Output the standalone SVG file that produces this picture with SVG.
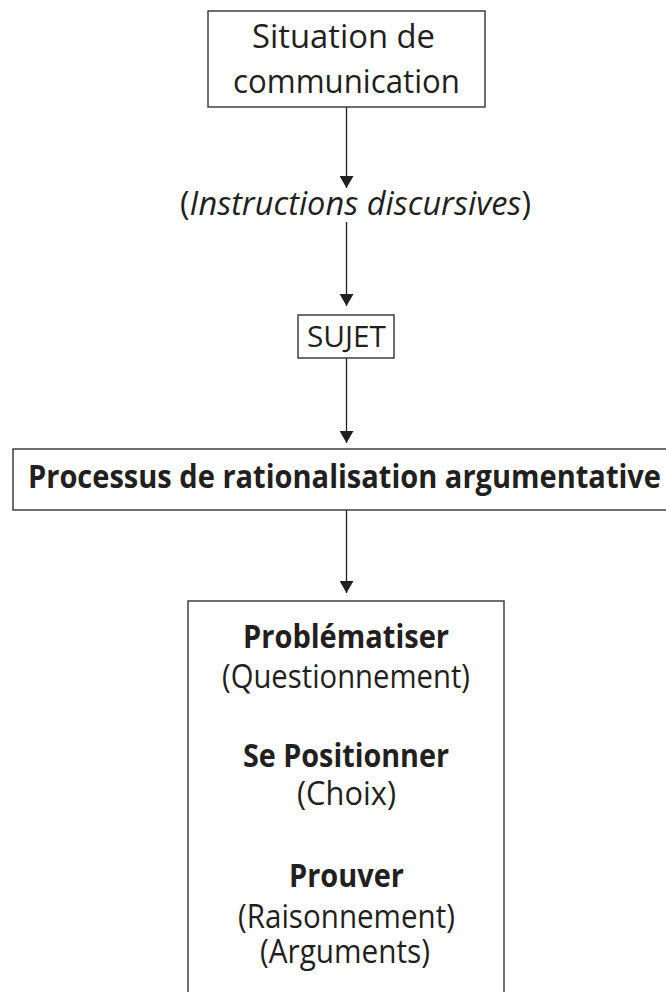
<svg xmlns="http://www.w3.org/2000/svg" width="666" height="992" viewBox="0 0 666 992">
<defs>
<style>
.box{fill:#fff;stroke:#333;stroke-width:1.4}
.t{font-family:"Open Sans","Noto Sans",sans-serif;fill:#231f20;text-anchor:middle}
.b{font-weight:700}
.i{font-style:italic}
.c{stroke:#231f20;stroke-width:1.3;fill:none;marker-end:url(#ah)}
</style>
<marker id="ah" markerUnits="userSpaceOnUse" viewBox="0 0 12 14" refX="12" refY="7" markerWidth="12" markerHeight="14" orient="auto">
<path d="M0,0 L12,7 L0,14 z" fill="#231f20"/>
</marker>
</defs>
<rect width="666" height="992" fill="#fff"/>
<g id="connectors">
<line class="c" x1="346.5" y1="107" x2="346.5" y2="188"/>
<line class="c" x1="346.5" y1="222" x2="346.5" y2="306"/>
<line class="c" x1="346.5" y1="358" x2="346.5" y2="443"/>
<line class="c" x1="346.5" y1="510" x2="346.5" y2="593"/>
</g>
<g id="situation">
<rect class="box" x="208" y="11" width="277" height="96"/>
<text class="t" x="343.5" y="48" font-size="33" textLength="183" lengthAdjust="spacingAndGlyphs">Situation de</text>
<text class="t" x="346.5" y="93" font-size="33" textLength="227" lengthAdjust="spacingAndGlyphs">communication</text>
</g>
<g id="instructions">
<text class="t" x="355.5" y="215" font-size="33" textLength="351" lengthAdjust="spacingAndGlyphs">(<tspan class="i">Instructions discursives</tspan>)</text>
</g>
<g id="sujet">
<rect class="box" x="298" y="315" width="96" height="43"/>
<text class="t" x="346.5" y="347" font-size="30" textLength="79" lengthAdjust="spacingAndGlyphs">SUJET</text>
</g>
<g id="processus">
<rect class="box" x="13" y="449" width="667" height="61"/>
<text class="t b" x="344.5" y="488" font-size="32" textLength="633" lengthAdjust="spacingAndGlyphs">Processus de rationalisation argumentative</text>
</g>
<g id="etapes">
<rect class="box" x="188" y="601" width="316" height="400"/>
<text class="t b" x="346" y="648" font-size="32" textLength="206" lengthAdjust="spacingAndGlyphs">Problématiser</text>
<text class="t" x="346" y="688" font-size="32" textLength="248" lengthAdjust="spacingAndGlyphs">(Questionnement)</text>
<text class="t b" x="346" y="767" font-size="32" textLength="206" lengthAdjust="spacingAndGlyphs">Se Positionner</text>
<text class="t" x="346.5" y="805" font-size="32" textLength="99" lengthAdjust="spacingAndGlyphs">(Choix)</text>
<text class="t b" x="346.5" y="887" font-size="32" textLength="115" lengthAdjust="spacingAndGlyphs">Prouver</text>
<text class="t" x="346.5" y="928" font-size="32" textLength="217" lengthAdjust="spacingAndGlyphs">(Raisonnement)</text>
<text class="t" x="345" y="963" font-size="32" textLength="170" lengthAdjust="spacingAndGlyphs">(Arguments)</text>
</g>
</svg>
